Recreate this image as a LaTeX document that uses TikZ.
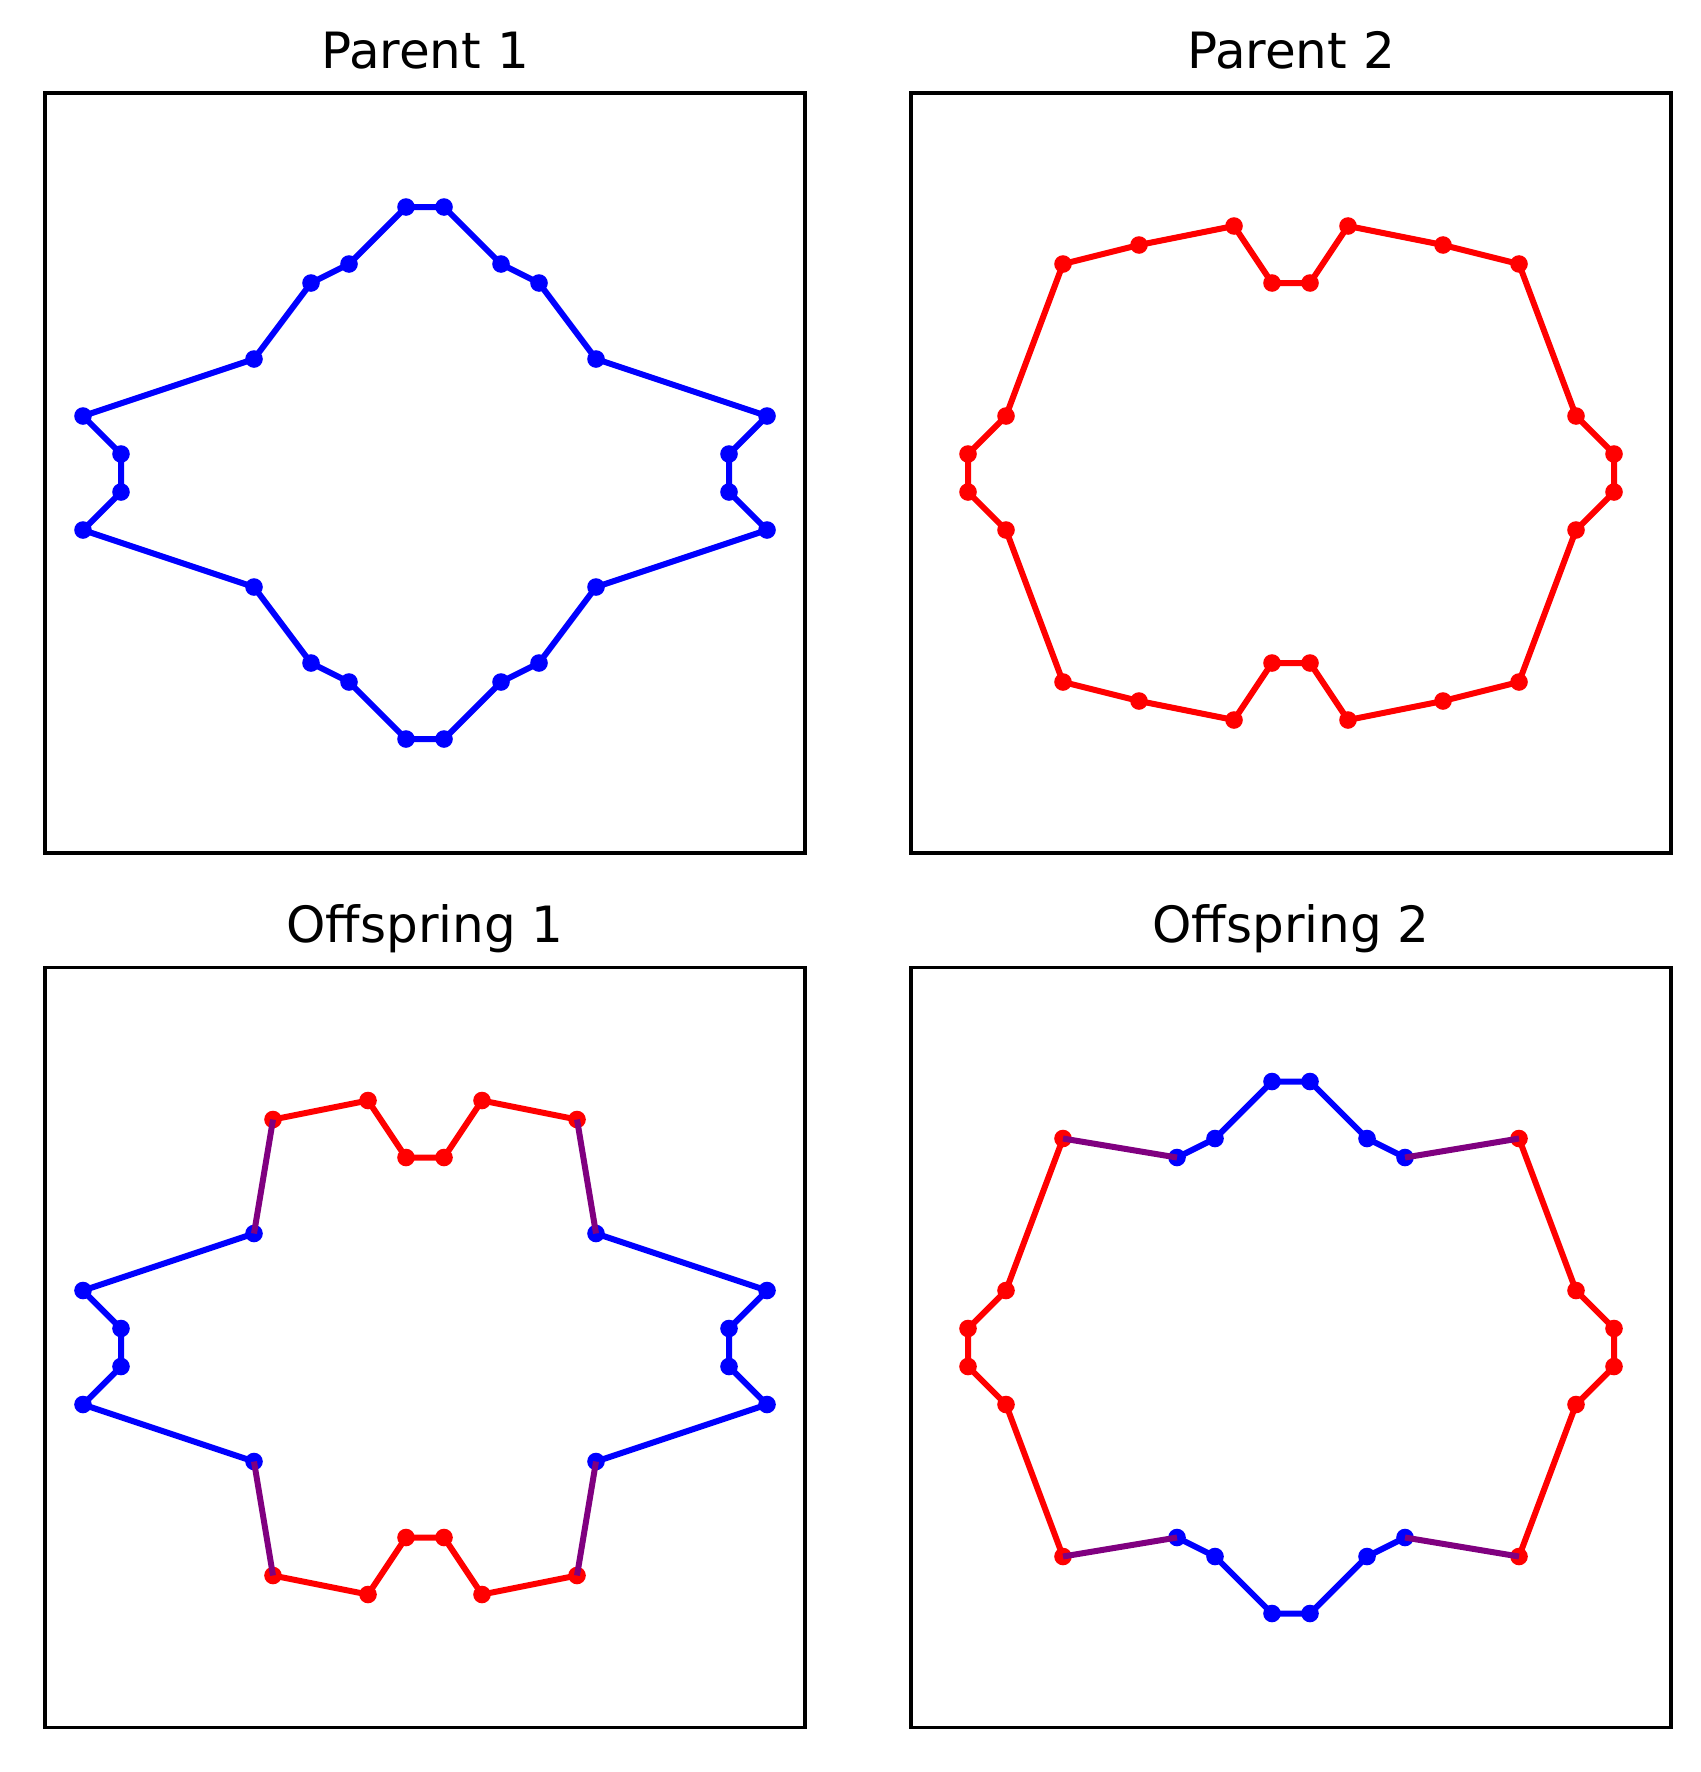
\documentclass[tikz,border=0pt]{standalone}
\usepackage{fontspec}
\setmainfont{DejaVu Sans}
\definecolor{mblue}{RGB}{0,0,255}
\definecolor{mred}{RGB}{255,0,0}
\definecolor{mpurple}{RGB}{128,0,128}
\tikzset{
  frame/.style={draw=black, line width=1.6pt},
  curve/.style={line width=3pt, line join=round},
  ptitle/.style={anchor=base, inner sep=0pt, font=\fontsize{25}{29}\selectfont, yshift=12.5pt},
  panel/.style={x=9.5pt, y=9.5pt},
}
\newcommand{\mydots}[2]{\foreach \p in {#2} {\fill[#1] \p circle (4.4pt);}}
\begin{document}
\begin{tikzpicture}
\useasboundingbox (0pt,0pt) rectangle (850.5pt,-886pt);

% Parent 1
\begin{scope}[xshift=212.5pt, yshift=-236.5pt, panel]
  \draw[frame] (-20,-20) rectangle (20,20);
  \node[ptitle] (t1) at (0,20) {Parent 1};
  \draw[mblue, curve] (1,14) -- (4,11) -- (6,10) -- (9,6) -- (18,3) -- (16,1) -- (16,-1) -- (18,-3) -- (9,-6) -- (6,-10) -- (4,-11) -- (1,-14) -- (-1,-14) -- (-4,-11) -- (-6,-10) -- (-9,-6) -- (-18,-3) -- (-16,-1) -- (-16,1) -- (-18,3) -- (-9,6) -- (-6,10) -- (-4,11) -- (-1,14) -- cycle;
  \mydots{mblue}{(1,14),(4,11),(6,10),(9,6),(18,3),(16,1),(16,-1),(18,-3),(9,-6),(6,-10),(4,-11),(1,-14),(-1,-14),(-4,-11),(-6,-10),(-9,-6),(-18,-3),(-16,-1),(-16,1),(-18,3),(-9,6),(-6,10),(-4,11),(-1,14)}
\end{scope}

% Parent 2
\begin{scope}[xshift=645.5pt, yshift=-236.5pt, panel]
  \draw[frame] (-20,-20) rectangle (20,20);
  \node[ptitle] (t2) at (0,20) {Parent 2};
  \draw[mred, curve] (1,10) -- (3,13) -- (8,12) -- (12,11) -- (15,3) -- (17,1) -- (17,-1) -- (15,-3) -- (12,-11) -- (8,-12) -- (3,-13) -- (1,-10) -- (-1,-10) -- (-3,-13) -- (-8,-12) -- (-12,-11) -- (-15,-3) -- (-17,-1) -- (-17,1) -- (-15,3) -- (-12,11) -- (-8,12) -- (-3,13) -- (-1,10) -- cycle;
  \mydots{mred}{(1,10),(3,13),(8,12),(12,11),(15,3),(17,1),(17,-1),(15,-3),(12,-11),(8,-12),(3,-13),(1,-10),(-1,-10),(-3,-13),(-8,-12),(-12,-11),(-15,-3),(-17,-1),(-17,1),(-15,3),(-12,11),(-8,12),(-3,13),(-1,10)}
\end{scope}

% Offspring 1
\begin{scope}[xshift=212.5pt, yshift=-673.75pt, panel]
  \draw[frame] (-20,-20) rectangle (20,20);
  \node[ptitle] (t3) at (0,20) {Offspring 1};
  \draw[mred, curve] (-8,12) -- (-3,13) -- (-1,10) -- (1,10) -- (3,13) -- (8,12);
  \draw[mred, curve] (8,-12) -- (3,-13) -- (1,-10) -- (-1,-10) -- (-3,-13) -- (-8,-12);
  \draw[mblue, curve] (9,6) -- (18,3) -- (16,1) -- (16,-1) -- (18,-3) -- (9,-6);
  \draw[mblue, curve] (-9,-6) -- (-18,-3) -- (-16,-1) -- (-16,1) -- (-18,3) -- (-9,6);
  \mydots{mred}{(-8,12),(-3,13),(-1,10),(1,10),(3,13),(8,12),(8,-12),(3,-13),(1,-10),(-1,-10),(-3,-13),(-8,-12)}
  \mydots{mblue}{(9,6),(18,3),(16,1),(16,-1),(18,-3),(9,-6),(-9,-6),(-18,-3),(-16,-1),(-16,1),(-18,3),(-9,6)}
  \draw[mpurple, curve] (8,12) -- (9,6);
  \draw[mpurple, curve] (9,-6) -- (8,-12);
  \draw[mpurple, curve] (-8,-12) -- (-9,-6);
  \draw[mpurple, curve] (-9,6) -- (-8,12);
\end{scope}

% Offspring 2
\begin{scope}[xshift=645.5pt, yshift=-673.75pt, panel]
  \draw[frame] (-20,-20) rectangle (20,20);
  \node[ptitle] (t4) at (0,20) {Offspring 2};
  \draw[mblue, curve] (-6,10) -- (-4,11) -- (-1,14) -- (1,14) -- (4,11) -- (6,10);
  \draw[mblue, curve] (6,-10) -- (4,-11) -- (1,-14) -- (-1,-14) -- (-4,-11) -- (-6,-10);
  \draw[mred, curve] (12,11) -- (15,3) -- (17,1) -- (17,-1) -- (15,-3) -- (12,-11);
  \draw[mred, curve] (-12,-11) -- (-15,-3) -- (-17,-1) -- (-17,1) -- (-15,3) -- (-12,11);
  \mydots{mblue}{(-6,10),(-4,11),(-1,14),(1,14),(4,11),(6,10),(6,-10),(4,-11),(1,-14),(-1,-14),(-4,-11),(-6,-10)}
  \mydots{mred}{(12,11),(15,3),(17,1),(17,-1),(15,-3),(12,-11),(-12,-11),(-15,-3),(-17,-1),(-17,1),(-15,3),(-12,11)}
  \draw[mpurple, curve] (6,10) -- (12,11);
  \draw[mpurple, curve] (12,-11) -- (6,-10);
  \draw[mpurple, curve] (-6,-10) -- (-12,-11);
  \draw[mpurple, curve] (-12,11) -- (-6,10);
\end{scope}
\end{tikzpicture}
\end{document}
